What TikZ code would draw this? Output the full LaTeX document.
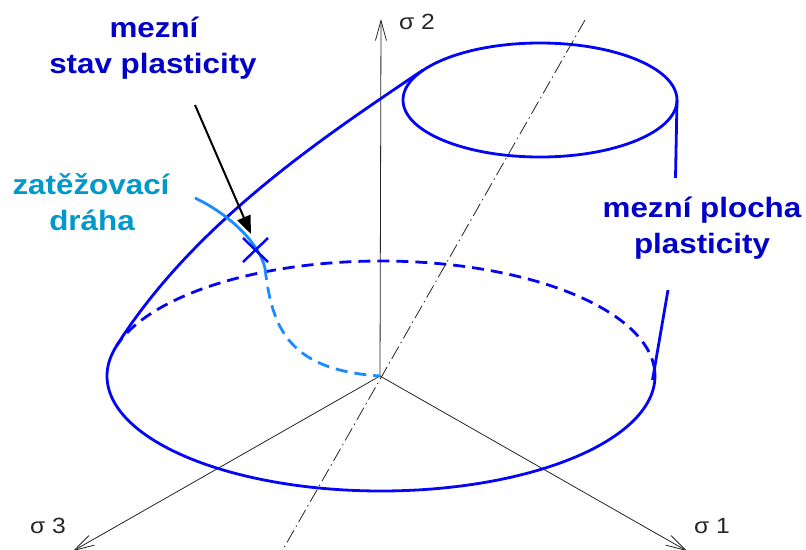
\documentclass[tikz,border=0pt]{standalone}
\usepackage{fontspec}
\setmainfont{Liberation Sans}
\newfontfamily\lblfont[FakeStretch=1.12]{Liberation Sans}
\usetikzlibrary{arrows.meta}
\definecolor{surf}{RGB}{5,5,245}
\definecolor{lbl}{RGB}{0,0,200}
\definecolor{loadc}{RGB}{25,140,255}
\definecolor{loadtxt}{RGB}{0,153,204}
\tikzset{
  surfline/.style={draw=surf, line width=2.8pt},
  surfdash/.style={draw=surf, line width=2.8pt, dash pattern=on 12pt off 7pt},
  loadline/.style={draw=loadc, line width=2.8pt},
  loaddash/.style={draw=loadc, line width=2.8pt, dash pattern=on 12pt off 7pt},
  axisline/.style={draw=black!85, line width=0.8pt, -{Straight Barb[length=20pt,width=11pt]}},
  hydro/.style={draw=black!85, line width=0.8pt, dash pattern=on 14pt off 4pt on 1.5pt off 4pt},
  bluelbl/.style={text=lbl, font=\lblfont\fontsize{28}{34}\selectfont\bfseries, anchor=base, inner sep=0pt},
  loadlbl/.style={text=loadtxt, font=\lblfont\fontsize{28}{34}\selectfont\bfseries, anchor=base, inner sep=0pt},
  siglbl/.style={text=black!85, font=\lblfont\fontsize{22}{26}\selectfont, anchor=base, inner sep=0pt}
}
\begin{document}
\begin{tikzpicture}[x=1pt,y=-1pt]
\clip (0,0) rectangle (806,549);
\fill[white] (0,0) rectangle (806,549);
\coordinate (O) at (380,376);
\coordinate (s2tip) at (381,19);
\coordinate (s3tip) at (73,551);
\coordinate (s1tip) at (687,551);
\coordinate (hA) at (585,20);
\coordinate (hB) at (277,560);
% axes
\draw[hydro] (hA) -- (hB);
\draw[axisline] (O) -- (s2tip);
\draw[axisline] (O) -- (s3tip);
\draw[axisline] (O) -- (s1tip);
\node[siglbl] (l2) at (417,29) {σ 2};
\node[siglbl] (l3) at (48,533) {σ 3};
\node[siglbl] (l1) at (712,533) {σ 1};
% top ellipse
\draw[surfline] (540,100) ellipse [x radius=137, y radius=57];
% bottom ellipse
\draw[surfdash] plot[domain=3:165, samples=120] ({381+274*cos(\x)},{376-115*sin(\x)});
\draw[surfline] plot[domain=165:363, samples=150] ({381+274*cos(\x)},{376-115*sin(\x)});
% silhouettes
\draw[surfline] (423,70) .. controls (330,133) and (196,220) .. (116.3,346.2);
\draw[surfline] (677,100) -- (675.5,178);
\draw[surfline] (668,290) -- (652.5,380);
% loading path
\coordinate (pS) at (195,198);
\coordinate (pM) at (265,268);
\draw[loadline] (pS) .. controls (225,212) and (258,240) .. (pM);
\draw[loaddash] (pM) .. controls (272,330) and (290,370) .. (O);
% cross
\coordinate (X) at (256,250);
\draw[draw=surf, line width=2.5pt] (243,238) -- (268,262) (243,262) -- (268,238);
% arrow
\coordinate (aT) at (195,105);
\coordinate (aH) at (251,234);
\draw[line width=2pt, -{Triangle[length=18pt,width=14pt]}] (aT) -- (aH);
% labels
\node[bluelbl] (m1) at (154,37) {mezní};
\node[bluelbl] (m2) at (153,73) {stav plasticity};
\node[loadlbl] (z1) at (91,194) {zatěžovací};
\node[loadlbl] (z2) at (92,230) {dráha};
\node[bluelbl] (p1) at (702,217) {mezní plocha};
\node[bluelbl] (p2) at (702,253) {plasticity};
\end{tikzpicture}
\end{document}
